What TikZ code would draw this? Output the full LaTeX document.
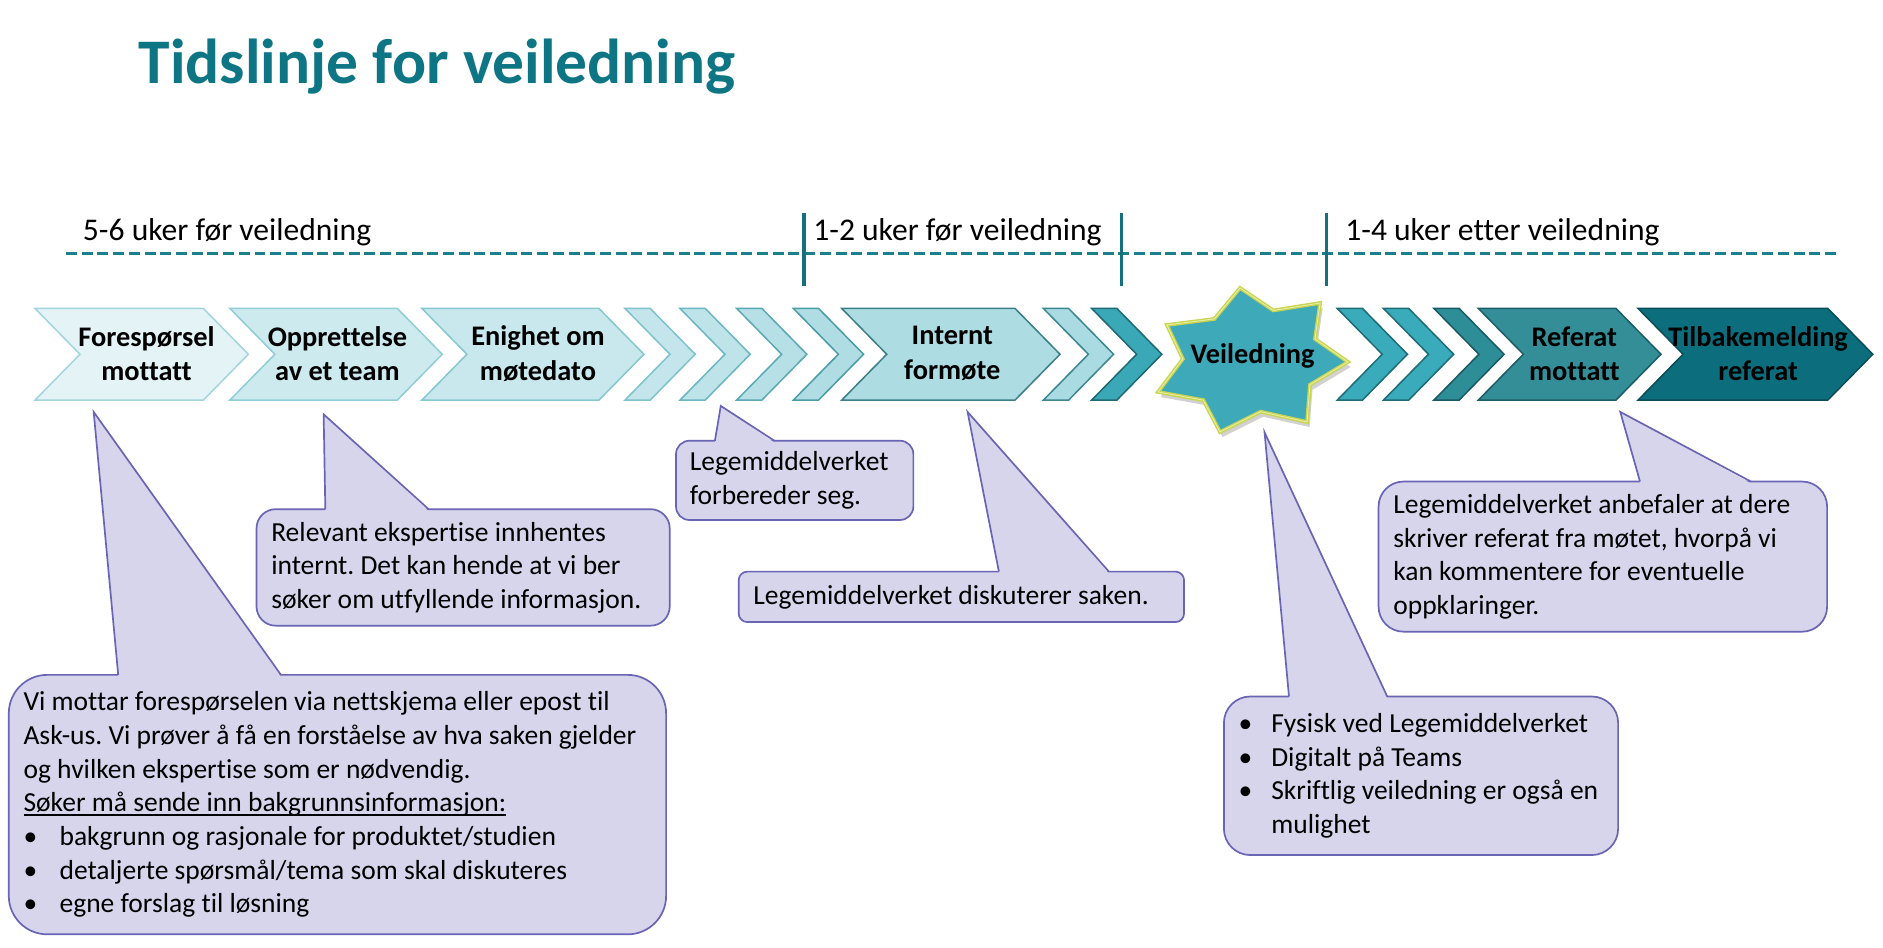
\documentclass[tikz,border=0pt]{standalone}
\usepackage{fontspec}
\setmainfont{Carlito}[Ligatures=NoCommon]
\frenchspacing
\usetikzlibrary{positioning, calc}
\definecolor{titleteal}{HTML}{0E7585}
\definecolor{dashteal}{HTML}{1B7F8C}
\definecolor{barteal}{HTML}{16707C}
\definecolor{chone}{HTML}{E3F3F6}
\definecolor{choneln}{HTML}{A3D5DD}
\definecolor{chtwo}{HTML}{CDEAEF}
\definecolor{chtwoln}{HTML}{90CDD7}
\definecolor{chthree}{HTML}{C9E8EE}
\definecolor{chthreeln}{HTML}{86C8D2}
\definecolor{smA}{HTML}{C3E5EB}
\definecolor{smAln}{HTML}{7EC3CE}
\definecolor{smB}{HTML}{BEE3E9}
\definecolor{smBln}{HTML}{6BB7C3}
\definecolor{smC}{HTML}{B6E0E6}
\definecolor{smCln}{HTML}{5AA9B5}
\definecolor{smD}{HTML}{B0DDE4}
\definecolor{smDln}{HTML}{4A9CA7}
\definecolor{chint}{HTML}{ADDCE3}
\definecolor{chintln}{HTML}{3C7F88}
\definecolor{smE}{HTML}{AADAE2}
\definecolor{smEln}{HTML}{3B8891}
\definecolor{smF}{HTML}{3BA8B7}
\definecolor{smFln}{HTML}{1D6A74}
\definecolor{starfill}{HTML}{3DA9B9}
\definecolor{starrim}{HTML}{CBD44E}
\definecolor{starinner}{HTML}{E4F0B0}
\definecolor{smG}{HTML}{3AABBA}
\definecolor{smGln}{HTML}{1E6D77}
\definecolor{smI}{HTML}{2D8E98}
\definecolor{smIln}{HTML}{1A5B63}
\definecolor{chref}{HTML}{338E97}
\definecolor{chrefln}{HTML}{1D5E66}
\definecolor{chfb}{HTML}{0C6E7D}
\definecolor{chfbln}{HTML}{0A4D57}
\definecolor{cfill}{HTML}{D6D5EC}
\definecolor{cline}{HTML}{6A64B5}
\newcommand{\bodysize}{\fontsize{16.3}{19.9}\selectfont}
\newcommand{\stepsize}{\fontsize{16.8}{20.6}\selectfont\bfseries}
\newcommand{\bul}[1][0.75cm]{\makebox[#1][l]{\textbullet}}
\newcommand{\undl}[1]{\leavevmode\setbox0\hbox{#1}\rlap{\rule[-2.4pt]{\wd0}{0.8pt}}\box0}

\begin{document}
\begin{tikzpicture}[x=0.025cm, y=-0.025cm,
  chev/.style={line width=0.9pt, line join=miter},
  steptext/.style={font=\stepsize, align=center, inner sep=0pt},
  callbox/.style={fill=cfill, draw=cline, line width=1pt, outer sep=0pt},
  calltext/.style={font=\bodysize, align=left, inner sep=0pt},
  calltail/.style={draw=cline, line width=1pt}]

% Background
\useasboundingbox (0,0) rectangle (1568,789);
\fill[white] (0,0) rectangle (1568,789);

% Title
\node[anchor=base west, inner sep=0pt, text=titleteal, font=\fontsize{37.6}{45}\selectfont\bfseries] (title) at (115.2,69.4) {Tidslinje for veiledning};

% Phases
\node[anchor=base west, inner sep=0pt, font=\fontsize{18.7}{22}\selectfont] (ph-before) at (68.8,200) {5-6 uker før veiledning};
\node[anchor=base west, inner sep=0pt, font=\fontsize{18.7}{22}\selectfont] (ph-near) at (677,200) {1-2 uker før veiledning};
\node[anchor=base west, inner sep=0pt, font=\fontsize{18.7}{22}\selectfont] (ph-after) at (1120,200) {1-4 uker etter veiledning};
\draw[dashteal, line width=1.8pt, dash pattern=on 6.5pt off 2.8pt] (55,211) -- (1529,211);
\draw[barteal, line width=2pt] (669.6,177) -- (669.6,238);
\draw[barteal, line width=2pt] (933.8,177) -- (933.8,238);
\draw[barteal, line width=2pt] (1104.7,177) -- (1104.7,238);

% Chevrons before the meeting
\filldraw[chev, fill=chone, draw=choneln] (29.1,256.8) -- ++(140.2,0) -- ++(37.5,38.2) -- ++(-37.5,38.2) -- ++(-140.2,0) -- ++(37.5,-38.2) -- cycle;
\filldraw[chev, fill=chtwo, draw=chtwoln] (191.4,256.8) -- ++(139.4,0) -- ++(37.5,38.2) -- ++(-37.5,38.2) -- ++(-139.4,0) -- ++(37.5,-38.2) -- cycle;
\filldraw[chev, fill=chthree, draw=chthreeln] (351.3,256.8) -- ++(147.4,0) -- ++(37.5,38.2) -- ++(-37.5,38.2) -- ++(-147.4,0) -- ++(37.5,-38.2) -- cycle;
\filldraw[chev, fill=smA, draw=smAln] (520.4,256.8) -- ++(21,0) -- ++(37.5,38.2) -- ++(-37.5,38.2) -- ++(-21,0) -- ++(37.5,-38.2) -- cycle;
\filldraw[chev, fill=smB, draw=smBln] (566.2,256.8) -- ++(21,0) -- ++(37.5,38.2) -- ++(-37.5,38.2) -- ++(-21,0) -- ++(37.5,-38.2) -- cycle;
\filldraw[chev, fill=smC, draw=smCln] (613.4,256.8) -- ++(21,0) -- ++(37.5,38.2) -- ++(-37.5,38.2) -- ++(-21,0) -- ++(37.5,-38.2) -- cycle;
\filldraw[chev, fill=smD, draw=smDln] (660.6,256.8) -- ++(21,0) -- ++(37.5,38.2) -- ++(-37.5,38.2) -- ++(-21,0) -- ++(37.5,-38.2) -- cycle;
\filldraw[chev, fill=chint, draw=chintln] (700.9,256.8) -- ++(144.3,0) -- ++(37.5,38.2) -- ++(-37.5,38.2) -- ++(-144.3,0) -- ++(37.5,-38.2) -- cycle;
\filldraw[chev, fill=smE, draw=smEln] (868.8,256.8) -- ++(21,0) -- ++(37.5,38.2) -- ++(-37.5,38.2) -- ++(-21,0) -- ++(37.5,-38.2) -- cycle;
\filldraw[chev, fill=smF, draw=smFln] (909,256.8) -- ++(21,0) -- ++(37.5,38.2) -- ++(-37.5,38.2) -- ++(-21,0) -- ++(37.5,-38.2) -- cycle;

\node[steptext] (n-req) at (122,294.5) {Forespørsel\\mottatt};
\node[steptext] (n-team) at (281,294.5) {Opprettelse\\av et team};
\node[steptext] (n-date) at (448,294.5) {Enighet om\\møtedato};
\node[steptext] (n-int) at (793,294.5) {Internt\\formøte};

% Star: the meeting itself
\filldraw[fill=starfill, draw=starrim, line width=2.2pt, line join=miter,
  preaction={fill=black, opacity=0.18, transform canvas={xshift=1.5pt, yshift=-3pt}},
  postaction={draw=starinner, line width=0.5pt}]
  (1032.6,239.8) -- (1060.4,258.5) -- (1099.3,252.3) -- (1095.0,282.2) -- (1122.5,301.4) -- (1090.8,320.4)
  -- (1088.4,351.4) -- (1049.7,342.8) -- (1015.9,359.7) -- (1002.0,333.2) -- (964.3,326.4) -- (985.0,298.9)
  -- (971.7,270.6) -- (1011.2,265.6) -- cycle;
\node[steptext] (n-meet) at (1043,296) {Veiledning};

% Chevrons after the meeting
\filldraw[chev, fill=smG, draw=smGln] (1113.5,256.8) -- ++(21,0) -- ++(37.5,38.2) -- ++(-37.5,38.2) -- ++(-21,0) -- ++(37.5,-38.2) -- cycle;
\filldraw[chev, fill=smG, draw=smGln] (1152,256.8) -- ++(21,0) -- ++(37.5,38.2) -- ++(-37.5,38.2) -- ++(-21,0) -- ++(37.5,-38.2) -- cycle;
\filldraw[chev, fill=smI, draw=smIln] (1194,256.8) -- ++(21,0) -- ++(37.5,38.2) -- ++(-37.5,38.2) -- ++(-21,0) -- ++(37.5,-38.2) -- cycle;
\filldraw[chev, fill=chref, draw=chrefln] (1231,256.8) -- ++(114.6,0) -- ++(37.5,38.2) -- ++(-37.5,38.2) -- ++(-114.6,0) -- ++(37.5,-38.2) -- cycle;
\filldraw[chev, fill=chfb, draw=chfbln] (1364,256.8) -- ++(158,0) -- ++(37.5,38.2) -- ++(-37.5,38.2) -- ++(-158,0) -- ++(37.5,-38.2) -- cycle;

\node[steptext] (n-ref) at (1311,294.5) {Referat\\mottatt};
\node[steptext] (n-fb) at (1464,294.5) {Tilbakemelding\\referat};

% Callout 1: request received
\node[callbox, minimum width=13.68cm, minimum height=5.4cm, rounded corners=0.8cm] (c-req) at (281,670) {};
\coordinate (p-req) at (78,343);
\fill[cfill] ($(c-req.north west)+(91.1,1.5)$) -- (p-req) -- ($(c-req.north west)+(226.6,1.5)$) -- cycle;
\draw[calltail] ($(c-req.north west)+(91.1,0)$) -- (p-req) -- ($(c-req.north west)+(226.6,0)$);
\node[calltext, right=0.3cm of c-req.west] (t-req) {Vi mottar forespørselen via nettskjema eller epost til\\Ask-us. Vi prøver å få en forståelse av hva saken gjelder\\og hvilken ekspertise som er nødvendig.\\\undl{Søker må sende inn bakgrunnsinformasjon:}\\\bul bakgrunn og rasjonale for produktet/studien\\\bul detaljerte spørsmål/tema som skal diskuteres\\\bul egne forslag til løsning};

% Callout 2: team
\node[callbox, minimum width=8.6cm, minimum height=2.425cm, rounded corners=0.4cm] (c-team) at (385.65,472.5) {};
\coordinate (p-team) at (269.5,345);
\fill[cfill] ($(c-team.north west)+(57.3,1.5)$) -- (p-team) -- ($(c-team.north west)+(143.3,1.5)$) -- cycle;
\draw[calltail] ($(c-team.north west)+(57.3,0)$) -- (p-team) -- ($(c-team.north west)+(143.3,0)$);
\node[calltext, right=0.3cm of c-team.west] (t-team) {Relevant ekspertise innhentes\\internt. Det kan hende at vi ber\\søker om utfyllende informasjon.};

% Callout 3: preparation
\node[callbox, minimum width=4.94cm, minimum height=1.65cm, rounded corners=0.28cm] (c-prep) at (661.75,400) {};
\coordinate (p-prep) at (600.2,338);
\fill[cfill] ($(c-prep.north west)+(32.4,1.5)$) -- (p-prep) -- ($(c-prep.north west)+(81.9,1.5)$) -- cycle;
\draw[calltail] ($(c-prep.north west)+(32.4,0)$) -- (p-prep) -- ($(c-prep.north west)+(81.9,0)$);
\node[calltext, right=0.28cm of c-prep.west] (t-prep) {Legemiddelverket\\forbereder seg.};

% Callout 4: internal meeting
\node[callbox, minimum width=9.27cm, minimum height=1.05cm, rounded corners=0.18cm] (c-int) at (800.55,497) {};
\coordinate (p-int) at (805.7,343);
\fill[cfill] ($(c-int.north west)+(216.7,1.5)$) -- (p-int) -- ($(c-int.north west)+(308.3,1.5)$) -- cycle;
\draw[calltail] ($(c-int.north west)+(216.7,0)$) -- (p-int) -- ($(c-int.north west)+(308.3,0)$);
\node[calltext, right=0.3cm of c-int.west] (t-int) {Legemiddelverket diskuterer saken.};

% Callout 5: the meeting
\node[callbox, minimum width=8.205cm, minimum height=3.3cm, rounded corners=0.55cm] (c-meet) at (1183.3,646) {};
\coordinate (p-meet) at (1053,360);
\fill[cfill] ($(c-meet.north west)+(54.2,1.5)$) -- (p-meet) -- ($(c-meet.north west)+(136,1.5)$) -- cycle;
\draw[calltail] ($(c-meet.north west)+(54.2,0)$) -- (p-meet) -- ($(c-meet.north west)+(136,0)$);
\node[calltext, right=0.3cm of c-meet.west] (t-meet) {\bul[0.68cm]Fysisk ved Legemiddelverket\\\bul[0.68cm]Digitalt på Teams\\\bul[0.68cm]Skriftlig veiledning er også en\\\hspace*{0.68cm}mulighet};

% Callout 6: minutes
\node[callbox, minimum width=9.335cm, minimum height=3.125cm, rounded corners=0.52cm] (c-ref) at (1334.7,463.5) {};
\coordinate (p-ref) at (1349.2,343);
\fill[cfill] ($(c-ref.north west)+(217.7,1.5)$) -- (p-ref) -- ($(c-ref.north west)+(310,1.5)$) -- cycle;
\draw[calltail] ($(c-ref.north west)+(217.7,0)$) -- (p-ref) -- ($(c-ref.north west)+(310,0)$);
\node[calltext, right=0.3cm of c-ref.west] (t-ref) {Legemiddelverket anbefaler at dere\\skriver referat fra møtet, hvorpå vi\\kan kommentere for eventuelle\\oppklaringer.};

\end{tikzpicture}
\end{document}
